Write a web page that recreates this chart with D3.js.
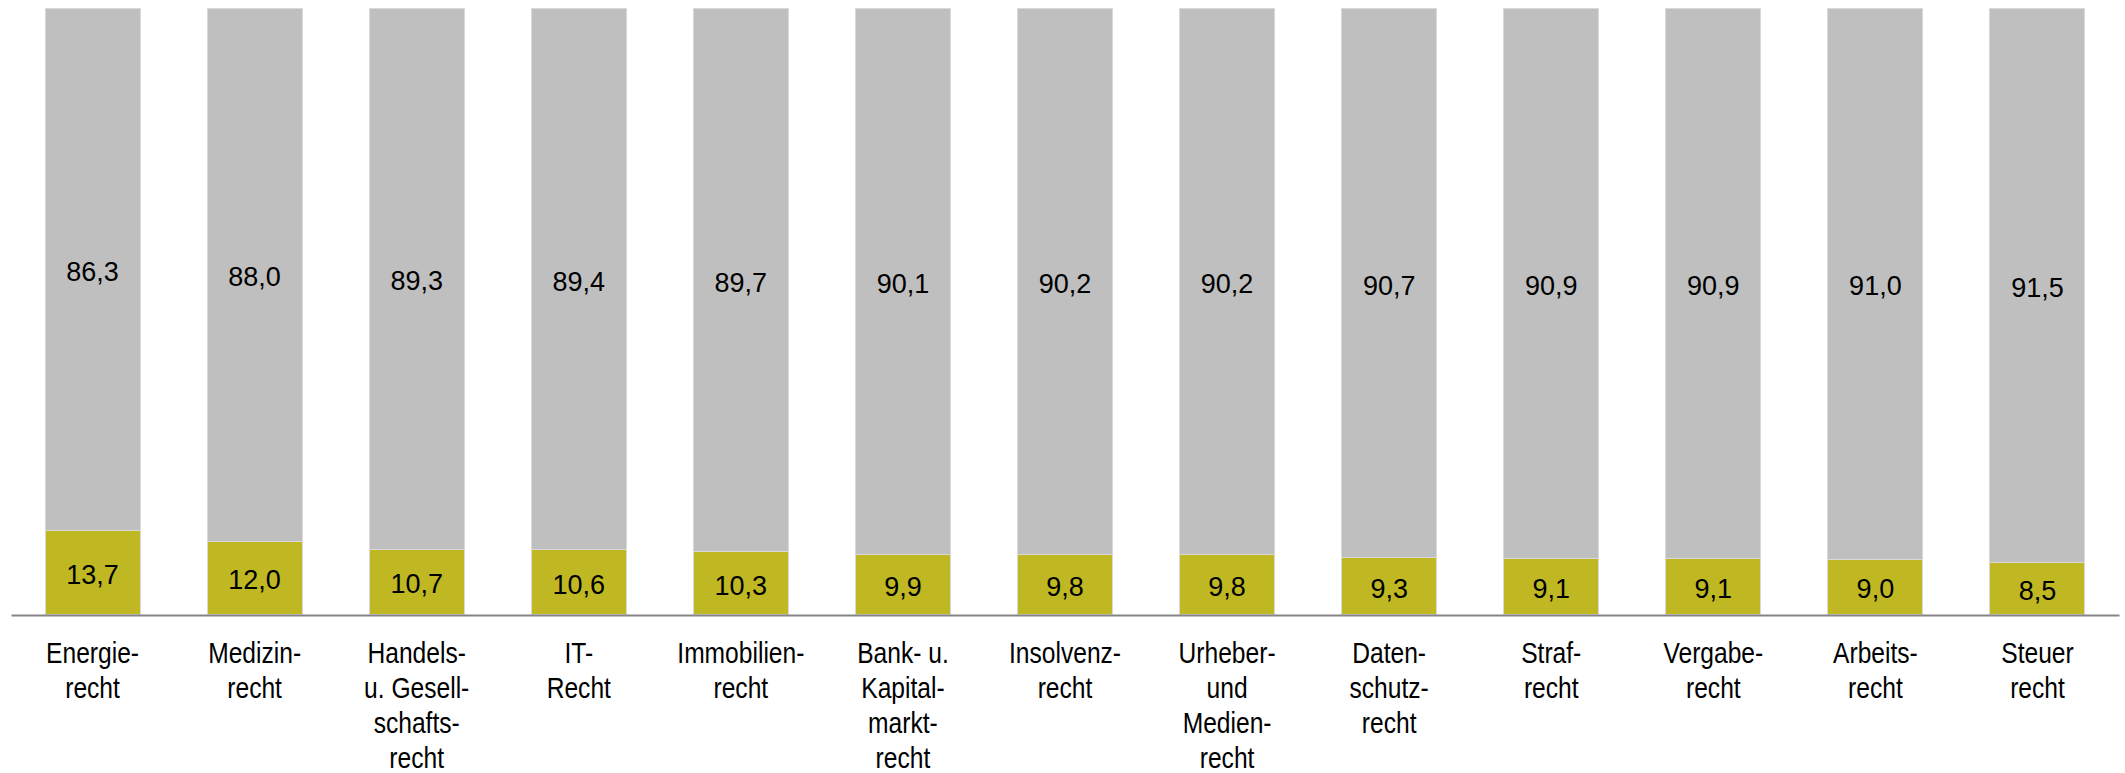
<!DOCTYPE html>
<html>
<head>
<meta charset="utf-8">
<script src="https://cdn.jsdelivr.net/npm/d3@7"></script>
<style>
  html, body { margin: 0; padding: 0; background: #fff; }
  svg { display: block; }
  .cat { font-family: "Liberation Sans", Arial, sans-serif; font-size: 30px; fill: #000; }
  .val { font-family: "Liberation Sans", Arial, sans-serif; font-size: 27px; fill: #000; }
</style>
</head>
<body>
<svg id="chart" width="2125" height="773"></svg>
<script>
const categories = [
  "Energie-\nrecht",
  "Medizin-\nrecht",
  "Handels-\nu. Gesell-\nschafts-\nrecht",
  "IT-\nRecht",
  "Immobilien-\nrecht",
  "Bank- u.\nKapital-\nmarkt-\nrecht",
  "Insolvenz-\nrecht",
  "Urheber-\nund\nMedien-\nrecht",
  "Daten-\nschutz-\nrecht",
  "Straf-\nrecht",
  "Vergabe-\nrecht",
  "Arbeits-\nrecht",
  "Steuer\nrecht"
];
const lowerValues = [13.7, 12.0, 10.7, 10.6, 10.3, 9.9, 9.8, 9.8, 9.3, 9.1, 9.1, 9.0, 8.5];
const upperValues = [86.3, 88.0, 89.3, 89.4, 89.7, 90.1, 90.2, 90.2, 90.7, 90.9, 90.9, 91.0, 91.5];
const seriesKeys = ["lower", "upper"];
const seriesColors = ["#BFB823", "#BFBFBF"];

const fmt = v => d3.format(".1f")(v).replace(".", ",");

const data = categories.map((c, i) => ({ cat: c, lower: lowerValues[i], upper: upperValues[i] }));
const stack = d3.stack().keys(seriesKeys)(data);

const svg = d3.select("#chart");
const x = d3.scaleBand().domain(categories).range([11, 2119]).paddingInner(0.414).paddingOuter(0.21);
const y = d3.scaleLinear().domain([0, 100]).range([614, 8]);
const color = d3.scaleOrdinal().domain(seriesKeys).range(seriesColors);

const layers = svg.selectAll("g.layer").data(stack).join("g").attr("class", "layer")
  .attr("fill", d => color(d.key));

layers.selectAll("rect").data(d => d).join("rect")
  .attr("x", d => x(d.data.cat))
  .attr("width", x.bandwidth())
  .attr("y", d => y(d[1]))
  .attr("height", d => y(d[0]) - y(d[1]))
  .attr("stroke", "#d9d9d9")
  .attr("stroke-width", 1)
  .attr("shape-rendering", "crispEdges");

layers.selectAll("text").data(d => d).join("text")
  .attr("class", "val")
  .attr("x", d => x(d.data.cat) + x.bandwidth() / 2)
  .attr("y", d => (y(d[0]) + y(d[1])) / 2 + 2)
  .attr("text-anchor", "middle")
  .attr("dy", "0.36em")
  .attr("fill", "#000")
  .text(function(d) { return fmt(d[1] - d[0]); });

// axis
const axis = svg.append("g").attr("transform", "translate(0,615)")
  .call(d3.axisBottom(x).tickSize(0).tickFormat(""));
axis.select(".domain").attr("stroke", "#858585").attr("stroke-width", 2);

// category labels (narrow face emulated by horizontal scaling)
const labels = svg.append("g").selectAll("text").data(categories).join("text")
  .attr("class", "cat")
  .attr("text-anchor", "middle")
  .attr("transform", d => `translate(${x(d) + x.bandwidth() / 2},663) scale(0.82,1)`);
labels.selectAll("tspan").data(d => d.split("\n")).join("tspan")
  .attr("x", 0)
  .attr("dy", (d, i) => i === 0 ? 0 : 35)
  .text(d => d);
</script>
</body>
</html>
